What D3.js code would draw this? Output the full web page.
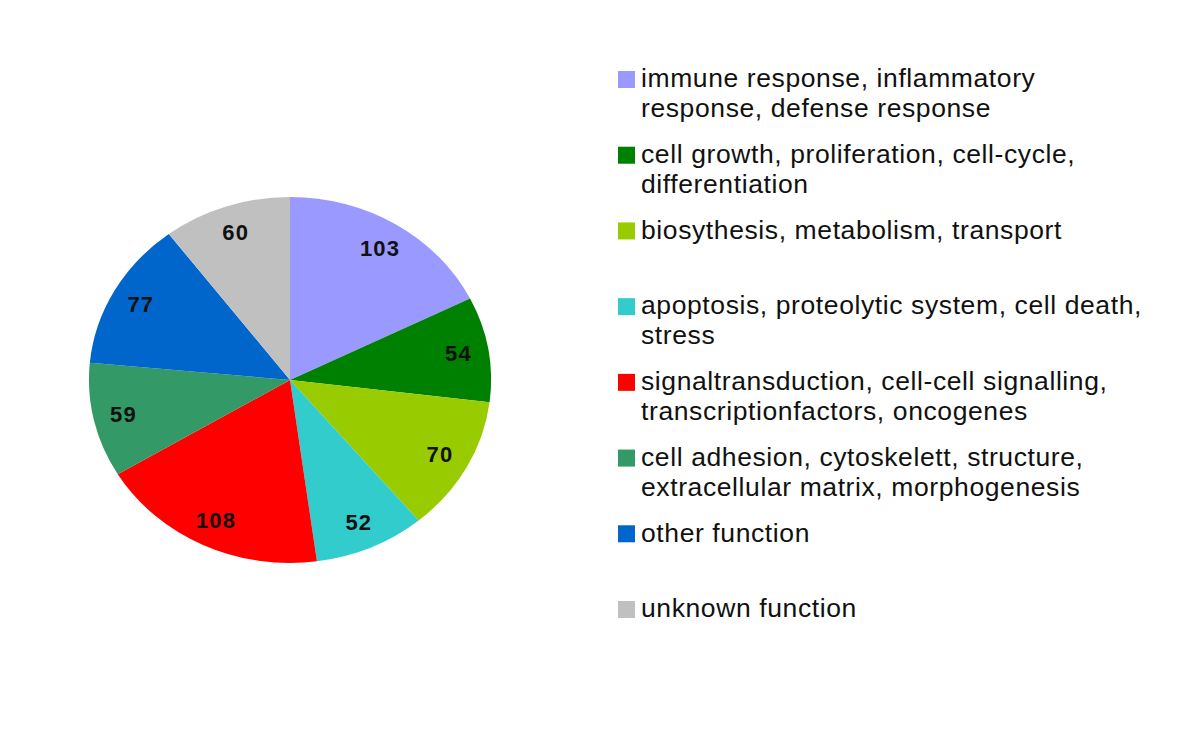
<!DOCTYPE html>
<html><head><meta charset="utf-8">
<script src="https://cdn.jsdelivr.net/npm/d3@7"></script>
<style>body{margin:0;background:#fff}svg{display:block}</style>
</head><body>
<svg id="c" width="1200" height="748"></svg>
<script>
const categories = [
  ["immune response, inflammatory", "response, defense response"],
  ["cell growth, proliferation, cell-cycle,", "differentiation"],
  ["biosythesis, metabolism, transport"],
  ["apoptosis, proteolytic system, cell death,", "stress"],
  ["signaltransduction, cell-cell signalling,", "transcriptionfactors, oncogenes"],
  ["cell adhesion, cytoskelett, structure,", "extracellular matrix, morphogenesis"],
  ["other function"],
  ["unknown function"]
];
const values = [103, 54, 70, 52, 108, 59, 77, 60];
const colors = ["#9999ff", "#008000", "#99cc00", "#33cccc", "#ff0000", "#339966", "#0066cc", "#c0c0c0"];

const svg = d3.select("#c");
const cx = 290, cy = 380, rx = 201, ry = 183;
const data = values.map((v, i) => ({v, i}));
const pie = d3.pie().value(d => d.v).sort(null);
const arcs = pie(data);
const arc = d3.arc().innerRadius(0).outerRadius(1);
const g = svg.append("g").attr("transform", `translate(${cx},${cy}) scale(${rx},${ry})`);
g.selectAll("path").data(arcs).enter().append("path")
  .attr("d", arc).attr("fill", d => colors[d.data.i]);

const lr = 0.85;
svg.append("g").selectAll("text").data(arcs).enter().append("text")
  .attr("x", d => cx + Math.sin((d.startAngle + d.endAngle) / 2) * rx * lr)
  .attr("y", d => cy - Math.cos((d.startAngle + d.endAngle) / 2) * ry * lr)
  .attr("text-anchor", "middle").attr("dy", "0.35em")
  .attr("font-family", "Liberation Sans, Arial, sans-serif")
  .attr("font-weight", "bold").attr("font-size", 22).attr("letter-spacing", 1.2).attr("fill", "#111")
  .text(d => d.data.v);

const ly = d3.scalePoint().domain(d3.range(categories.length)).range([78, 608]);
const lg = svg.append("g").selectAll("g").data(categories).enter().append("g")
  .attr("transform", (d, i) => `translate(618,${ly(i)})`);
lg.append("rect").attr("x", 0).attr("y", -7).attr("width", 17).attr("height", 17)
  .attr("fill", (d, i) => colors[i]);
lg.append("text").attr("x", 23).attr("y", 0)
  .attr("font-family", "Liberation Sans, Arial, sans-serif")
  .attr("font-size", 26.5).attr("letter-spacing", 0.6).attr("fill", "#111")
  .selectAll("tspan").data(d => d).enter().append("tspan")
  .attr("x", 23).attr("dy", (d, j) => j === 0 ? "0.35em" : "1.12em").text(d => d);
</script>
</body></html>
